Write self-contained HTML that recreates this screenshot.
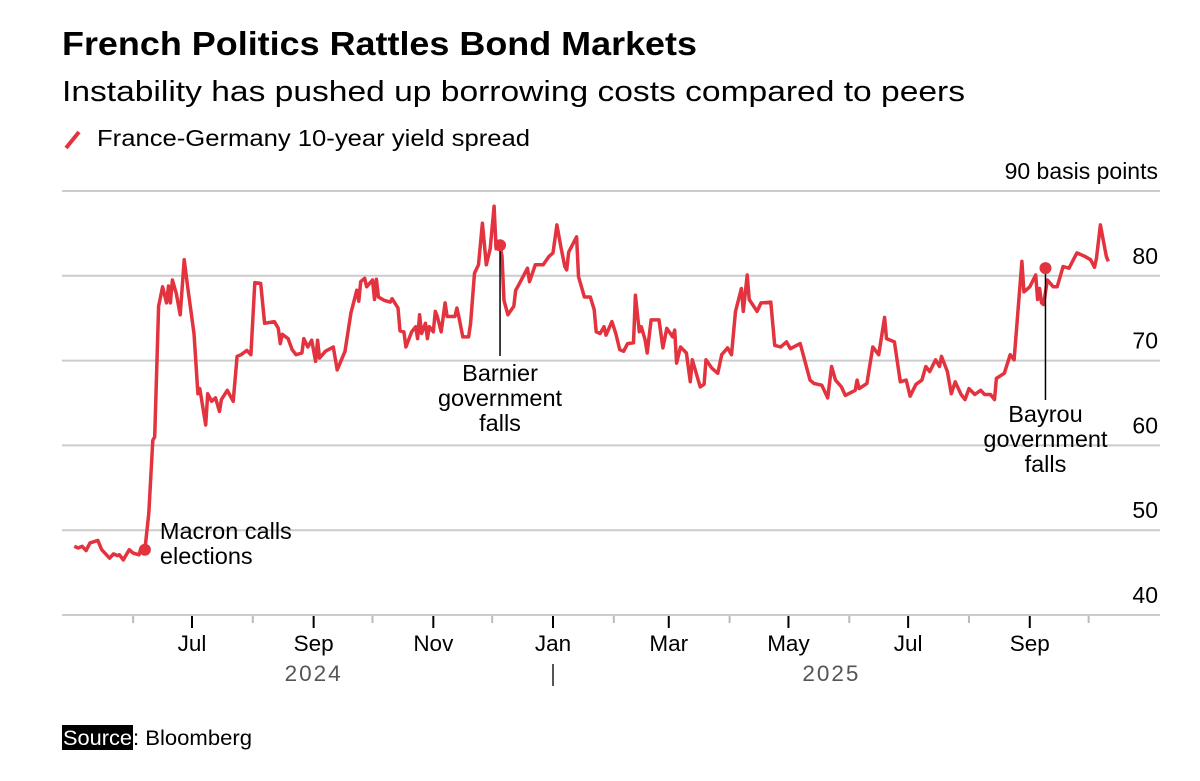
<!DOCTYPE html>
<html><head><meta charset="utf-8"><style>
body{margin:0;background:#fff;width:1200px;height:776px;overflow:hidden;font-family:"Liberation Sans",Arial,sans-serif;}
svg text{font-family:"Liberation Sans",Arial,sans-serif;}
</style></head><body>
<svg id="chart" width="1200" height="776" viewBox="0 0 1200 776">
<text x="62" y="55" font-size="33" font-weight="bold" fill="#000" textLength="635" lengthAdjust="spacingAndGlyphs">French Politics Rattles Bond Markets</text>
<text x="62" y="101" font-size="29" fill="#000" textLength="903" lengthAdjust="spacingAndGlyphs">Instability has pushed up borrowing costs compared to peers</text>
<g>
<line x1="66" y1="148" x2="79" y2="132" stroke="#e2333f" stroke-width="4"/>
<text x="97" y="146" font-size="23" fill="#000" textLength="433" lengthAdjust="spacingAndGlyphs">France-Germany 10-year yield spread</text>
</g>
<g id="grid"></g><g id="xaxis"></g><g id="yaxis"></g><g id="series"></g><g id="annot"></g>
<g>
<rect x="62" y="725" width="71" height="25" fill="#000"/>
<text x="63" y="745" font-size="21" fill="#fff" textLength="69" lengthAdjust="spacingAndGlyphs">Source</text>
<text x="133" y="745" font-size="21" fill="#000" textLength="119" lengthAdjust="spacingAndGlyphs">: Bloomberg</text>
</g>
</svg>
<script>
// days since 2024-05-01
const days = [1,3,5,7,9,13,15,19,21,23,24,26,29,31,34,35,37,39,41,42,44,46,48,49,50,51,53,55,57,59,62,64,65,68,69,71,73,75,76,79,82,84,86,89,91,93,96,98,103,105,106,107,110,112,114,117,118,120,122,124,125,126,129,133,135,139,142,145,146,147,149,150,153,154,155,156,159,162,163,166,167,169,170,173,175,176,177,178,180,181,182,184,185,186,188,190,191,195,196,197,199,202,203,205,207,209,211,213,215,216,218,219,220,222,225,226,227,232,233,236,240,243,245,247,249,251,252,253,257,258,261,264,266,267,269,271,272,275,277,279,281,283,286,287,289,290,292,293,295,299,301,303,306,307,308,310,313,315,316,320,322,323,326,329,331,334,336,338,341,342,344,345,349,351,356,358,361,364,366,371,373,376,378,382,385,387,389,392,394,399,400,401,405,408,411,414,415,419,422,425,427,430,433,435,437,440,442,443,446,448,450,453,455,457,460,463,465,468,470,471,475,478,480,484,485,488,491,492,493,494,495,497,500,502,505,508,512,516,519,521,522,524,527,528];
const spread = [48.1,47.9,48.1,47.6,48.5,48.8,47.7,46.7,47.2,47.0,47.1,46.5,47.7,47.3,47.1,47.9,47.7,52.0,60.6,61.0,76.4,78.7,76.8,78.8,76.8,79.5,77.9,75.4,81.9,78.3,73.2,66.1,66.7,62.4,66.1,65.2,65.6,64.0,65.4,66.5,65.2,70.5,70.7,71.2,70.7,79.2,79.1,74.4,74.6,73.8,72.0,73.1,72.6,71.3,70.7,70.9,72.6,71.6,72.4,69.9,72.4,70.3,71.1,71.6,68.9,71.1,75.6,78.3,77.0,79.3,79.7,78.7,79.5,77.2,79.6,77.5,77.1,76.9,77.3,76.2,73.5,73.4,71.6,73.4,74.0,72.6,75.4,73.2,74.4,72.6,74.0,73.4,75.8,75.2,73.4,76.8,75.2,75.2,76.2,75.2,72.8,72.8,74.4,80.3,81.3,86.2,81.3,83.2,88.2,83.2,83.6,82.3,77.1,75.4,76.4,78.3,78.7,80.9,79.3,81.3,81.3,82.3,82.7,86.0,83.4,81.1,80.7,82.8,84.6,79.9,77.5,77.5,76.0,73.4,73.2,74.0,73.0,74.6,73.2,71.3,71.1,72.0,72.1,77.7,73.4,74.0,72.4,70.9,74.8,74.8,71.5,73.8,72.8,73.6,69.7,71.6,70.9,67.5,70.1,66.9,67.2,70.1,69.1,68.5,70.7,71.5,70.7,75.8,78.5,75.8,80.1,77.2,75.8,76.8,76.9,71.8,71.6,72.2,71.4,72.0,70.3,67.7,67.3,67.1,65.6,69.3,67.7,66.9,65.9,66.5,67.7,66.7,67.3,71.6,70.7,75.1,72.6,72.2,67.5,67.7,65.8,67.2,67.7,69.3,68.7,70.1,69.3,70.5,68.7,66.1,67.5,66.0,65.4,66.7,66.0,66.5,66.0,66.0,65.4,67.9,68.5,70.7,70.1,81.7,78.1,78.7,80.1,77.2,78.5,76.8,76.6,79.5,78.7,78.7,81.1,80.9,82.7,82.3,81.9,81.0,82.1,86.0,82.3,81.7];
const yTicks = [40,50,60,70,80,90];
const monthLabels = ["Jun","Jul","Aug","Sep","Oct","Nov","Dec","Jan","Feb","Mar","Apr","May","Jun","Jul","Aug","Sep","Oct"];
const monthDays = [31,61,92,123,153,184,214,245,276,304,335,365,396,426,457,488,518];
const majorMonths = ["Jul","Sep","Nov","Jan","Mar","May"];
const events = [
 {day:37, value:47.7, lines:["Macron calls","elections"]},
 {day:218, value:83.6, lines:["Barnier","government","falls"]},
 {day:496, value:80.9, lines:["Bayrou","government","falls"]}
];
const NS="http://www.w3.org/2000/svg";
const X0=62,X1=1160;
function xs(d){return 192+(d-61)*1.962;}
function ys(v){return 615-(v-40)*8.48;}
function mk(tag,attrs,parent){const e=document.createElementNS(NS,tag);for(const k in attrs)e.setAttribute(k,attrs[k]);parent.appendChild(e);return e;}
const grid=document.getElementById('grid'),yax=document.getElementById('yaxis'),xax=document.getElementById('xaxis'),ser=document.getElementById('series'),ann=document.getElementById('annot');
yTicks.forEach(t=>{
 const l=mk('line',{x1:X0,x2:X1,y1:ys(t),y2:ys(t),stroke:'#cccccc','stroke-width':2},grid);
 
 
 const tx=mk('text',{x:1158,y:ys(t)-12,'font-size':23,fill:'#000','text-anchor':'end'},yax);
 tx.textContent = t===90 ? '90 basis points' : String(t);
 
 
});
monthDays.forEach((d,i)=>{
 const lab=monthLabels[i];const major=majorMonths.includes(lab);const x=xs(d);
 const tk=mk('line',{x1:x,x2:x,y1:616,y2:major?628:623,stroke:major?'#000':'#bbbbbb','stroke-width':2},xax);
 
 
 if(major){
  const tx=mk('text',{x:x,y:651,'font-size':22.5,fill:'#000','text-anchor':'middle'},xax);
  tx.textContent=lab;
  
  
 }
});
[["2024",xs(123)],["2025",xs(366)+41]].forEach(([y,x])=>{
 const tx=mk('text',{x:x,y:681,'font-size':22.5,fill:'#555','text-anchor':'middle','letter-spacing':'2'},xax);
 tx.textContent=y;
 
 
});
const sep=mk('line',{x1:xs(245),x2:xs(245),y1:664,y2:686,stroke:'#555','stroke-width':2},xax);


const pts=days.map((d,i)=>xs(d).toFixed(1)+','+ys(spread[i]).toFixed(1)).join(' ');
const pl=mk('polyline',{points:pts,fill:'none',stroke:'#e2333f','stroke-width':3.5,'stroke-linejoin':'round'},ser);


events.forEach((ev,i)=>{
 const x=xs(ev.day),y=ys(ev.value);
 if(i>0){
  const ll=mk('line',{x1:x,x2:x,y1:y,y2:i===1?356:400,stroke:'#000','stroke-width':1.5},ann);
  
  
 }
 const c=mk('circle',{cx:x,cy:y,r:6,fill:'#e2333f'},ann);
 
 
 ev.lines.forEach((t,j)=>{
  let tx;
  if(i===0) tx=mk('text',{x:x+15,y:539+j*25,'font-size':23.5,fill:'#000'},ann);
  else tx=mk('text',{x:x,y:(i===1?381:422)+j*25,'font-size':23.5,fill:'#000','text-anchor':'middle'},ann);
  tx.textContent=t;
  
  
 });
});
</script>
</body></html>
